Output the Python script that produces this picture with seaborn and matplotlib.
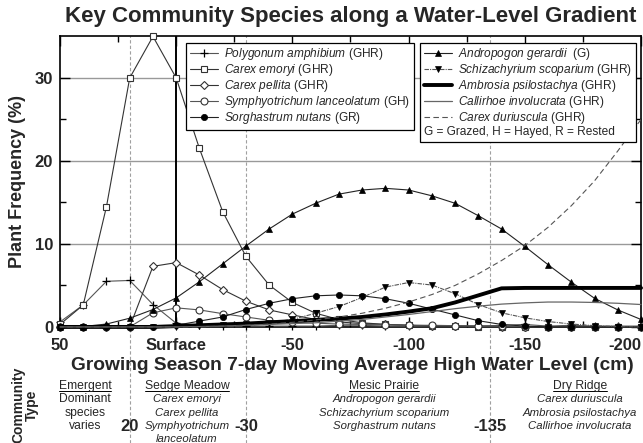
import numpy as np
import pandas as pd
import seaborn as sns
import matplotlib.pyplot as plt
from matplotlib.lines import Line2D

# water level (cm), sampled every 10 cm
level = [50, 40, 30, 20, 10, 0, -10, -20, -30, -40, -50, -60, -70,
         -80, -90, -100, -110, -120, -130, -140, -150, -160, -170, -180, -190, -200]

polygonum = [0.6, 2.65, 5.5, 5.6, 2.7, 0.45, 0.2, 0.15, 0.1, 0.1, 0.1, 0.1, 0.2,
             0.2, 0.1, 0.1, 0.1, 0.1, 0.1, 0.2, 0.3, 0.1, 0.2, 0.1, 0.1, 0.1]
carex_emoryi = [0.3, 2.65, 14.5, 30.0, 35.0, 30.0, 21.5, 13.9, 8.5, 5.05, 2.95, 1.65, 0.9,
                0.5, 0.3, 0.2, 0.1, 0.1, 0.05, 0, 0, 0, 0, 0, 0, 0]
carex_pellita = [0, 0, 0, 0, 7.3, 7.75, 6.25, 4.5, 3.1, 2.05, 1.45, 0.9, 0.6,
                 0.4, 0.3, 0.2, 0.15, 0.1, 0.1, 0.05, 0.05, 0, 0, 0, 0, 0]
symphyotrichum = [0, 0, 0, 0, 1.7, 2.3, 2.05, 1.6, 1.2, 0.8, 0.6, 0.45, 0.35,
                  0.3, 0.25, 0.2, 0.2, 0.15, 0.1, 0.1, 0.05, 0.05, 0.05, 0.05, 0.05, 0.05]
sorghastrum = [0, 0, 0, 0, 0, 0.2, 0.7, 1.2, 2.1, 2.85, 3.4, 3.75, 3.85,
               3.75, 3.4, 2.85, 2.15, 1.45, 0.75, 0.3, 0.1, 0, 0, 0, 0, 0]
andropogon = [0, 0.05, 0.35, 1.05, 2.1, 3.5, 5.45, 7.6, 9.75, 11.8, 13.6, 14.9, 16.0,
              16.5, 16.7, 16.5, 15.8, 14.9, 13.4, 11.8, 9.7, 7.5, 5.4, 3.45, 2.05, 0.9]
schizachyrium = [0, 0, 0, 0, 0, 0.05, 0.1, 0.2, 0.3, 0.5, 0.9, 1.65, 2.45,
                 3.55, 4.8, 5.35, 5.05, 4.0, 2.7, 1.7, 1.1, 0.65, 0.35, 0.15, 0.05, 0]
ambrosia = [0, 0, 0, 0, 0, 0.1, 0.2, 0.3, 0.4, 0.55, 0.7, 0.85, 1.0,
            1.2, 1.5, 1.85, 2.25, 2.95, 3.8, 4.65, 4.7, 4.7, 4.7, 4.7, 4.7, 4.7]
callirhoe = [0, 0, 0, 0, 0, 0, 0.05, 0.1, 0.2, 0.3, 0.4, 0.5, 0.7,
             0.9, 1.2, 1.5, 1.85, 2.2, 2.5, 2.75, 2.9, 3.0, 3.0, 2.95, 2.85, 2.7]
carex_duriuscula = [0, 0, 0, 0, 0, 0, 0, 0.1, 0.2, 0.35, 0.55, 0.85, 1.2,
                    1.65, 2.25, 3.0, 3.9, 5.0, 6.4, 8.0, 9.8, 12.0, 14.6, 17.6, 21.2, 25.0]

xtick_vals = [50, 0, -50, -100, -150, -200]
xtick_labels = ['50', 'Surface', '-50', '-100', '-150', '-200']
boundaries = [20, -30, -135]
boundary_labels = ['20', '-30', '-135']

df = pd.DataFrame({'level': level, 'polygonum': polygonum, 'emoryi': carex_emoryi,
                   'pellita': carex_pellita, 'symph': symphyotrichum, 'sorg': sorghastrum,
                   'andro': andropogon, 'schiz': schizachyrium, 'ambrosia': ambrosia,
                   'calli': callirhoe, 'duri': carex_duriuscula})

sns.set_theme(style='white')
plt.rcParams['font.family'] = ['Liberation Sans', 'DejaVu Sans']
plt.rcParams['mathtext.fontset'] = 'custom'
plt.rcParams['mathtext.rm'] = 'Liberation Sans'
plt.rcParams['mathtext.it'] = 'Liberation Sans:italic'
plt.rcParams['mathtext.bf'] = 'Liberation Sans:bold'

fig = plt.figure(figsize=(6.43, 4.43), dpi=100)
ax = fig.add_axes([0.0933, 0.262, 0.9036, 0.6557])

# reference lines
for v in [10, 20, 30]:
    ax.axhline(v, color='#999999', lw=1.0, zorder=0)
for v in boundaries:
    ax.axvline(v, ymin=-0.40, ymax=1, color='#a0a0a0', lw=0.8, ls=(0, (3, 2)),
               clip_on=False, zorder=0)
ax.axvline(0, color='black', lw=1.4, zorder=1)

series = [
    ('polygonum', r'$\mathit{Polygonum\ amphibium}$ (GHR)',
     dict(color='#555555', lw=0.8, marker='+', ms=6, mec='black', mew=0.9)),
    ('emoryi', r'$\mathit{Carex\ emoryi}$ (GHR)',
     dict(color='#333333', lw=0.8, marker='s', ms=5, mfc='white', mec='#333333', mew=0.8)),
    ('pellita', r'$\mathit{Carex\ pellita}$ (GHR)',
     dict(color='#333333', lw=0.8, marker='D', ms=4.5, mfc='white', mec='#333333', mew=0.8)),
    ('symph', r'$\mathit{Symphyotrichum\ lanceolatum}$ (GH)',
     dict(color='#555555', lw=0.8, marker='o', ms=5, mfc='white', mec='#333333', mew=0.8)),
    ('sorg', r'$\mathit{Sorghastrum\ nutans}$ (GR)',
     dict(color='#222222', lw=0.8, marker='o', ms=4.5, mfc='black', mec='black', mew=0.5)),
    ('andro', r'$\mathit{Andropogon\ gerardii}$  (G)',
     dict(color='#222222', lw=0.8, marker='^', ms=4.5, mfc='black', mec='black', mew=0.5)),
    ('schiz', r'$\mathit{Schizachyrium\ scoparium}$ (GHR)',
     dict(color='#555555', lw=0.8, ls=(0, (4, 1, 1, 1)), marker='v', ms=4.5,
          mfc='black', mec='black', mew=0.5)),
    ('ambrosia', r'$\mathit{Ambrosia\ psilostachya}$ (GHR)',
     dict(color='black', lw=2.8)),
    ('calli', r'$\mathit{Callirhoe\ involucrata}$ (GHR)',
     dict(color='#666666', lw=0.9)),
    ('duri', r'$\mathit{Carex\ duriuscula}$ (GHR)',
     dict(color='#555555', lw=0.8, ls=(0, (5, 3)))),
]
for col, lab, kw in series:
    sns.lineplot(data=df, x='level', y=col, ax=ax, label=lab, clip_on=False, zorder=3, **kw)

if ax.get_legend() is not None:
    ax.get_legend().remove()
handles, labels = ax.get_legend_handles_labels()

ax.set_xlim(50, -200)
ax.set_ylim(0, 35)
ax.set_xticks(xtick_vals)
ax.set_xticks(np.arange(50, -201, -25), minor=True)
ax.set_xticklabels(xtick_labels, fontsize=12, fontweight='bold')
ax.get_xticklabels()[-1].set_ha('right')
ax.set_yticks([0, 10, 20, 30])
ax.set_yticks([5, 15, 25], minor=True)
ax.set_yticklabels(['0', '10', '20', '30'], fontsize=12, fontweight='bold')
ax.tick_params(which='both', direction='in', top=True, right=True, bottom=True, left=True,
               color='black', width=1.0)
ax.tick_params(axis='x', which='major', length=7, pad=8)
ax.tick_params(axis='y', which='major', length=7, pad=5)
ax.tick_params(which='minor', length=4)
for s in ax.spines.values():
    s.set_color('black')
    s.set_linewidth(1.2)
ax.set_xlabel('')
ax.set_ylabel('Plant Frequency (%)', fontsize=13, fontweight='bold', labelpad=6)

leg_kw = dict(fontsize=8.6, frameon=True, fancybox=False, framealpha=1, edgecolor='black',
              handlelength=2.4, handletextpad=0.5, labelspacing=0.0, borderpad=0.3,
              borderaxespad=0, loc='upper left')
leg1 = ax.legend(handles[:5], labels[:5], bbox_to_anchor=(0.217, 0.978), **leg_kw)
leg1.get_frame().set_linewidth(0.9)
ax.add_artist(leg1)
extra = Line2D([], [], color='none')
leg2 = ax.legend(handles[5:] + [extra], labels[5:] + ['G = Grazed, H = Hayed, R = Rested'],
                 bbox_to_anchor=(0.6196, 0.978), **leg_kw)
leg2.get_frame().set_linewidth(0.9)
# last row of the right legend: text only, starting at the left edge
row = leg2._legend_handle_box.get_children()[0].get_children()[-1]
row.get_children().pop(0)

fig.text(0.545, 0.962, 'Key Community Species along a Water-Level Gradient',
         ha='center', va='center', fontsize=16, fontweight='bold')
fig.text(0.548, 0.176, 'Growing Season 7-day Moving Average High Water Level (cm)',
         ha='center', va='center', fontsize=13.8, fontweight='bold')

# community type panel
W, H = 643.0, 443.0
fig.text(0.039, 1 - 405 / H, 'Community\nType', rotation=90, ha='center', va='center',
         fontsize=10, fontweight='bold', linespacing=1.0)

communities = [
    ('Emergent', ['Dominant', 'species', 'varies'], 'normal', 85),
    ('Sedge Meadow', ['Carex emoryi', 'Carex pellita', 'Symphyotrichum', 'lanceolatum'],
     'italic', 187),
    ('Mesic Prairie', ['Andropogon gerardii', 'Schizachyrium scoparium', 'Sorghastrum nutans'],
     'italic', 384),
    ('Dry Ridge', ['Carex duriuscula', 'Ambrosia psilostachya', 'Callirhoe involucrata'],
     'italic', 580),
]
heads = []
for head, lines, style, xc in communities:
    t = fig.text(xc / W, 1 - 386 / H, head, ha='center', va='center', fontsize=8.7)
    heads.append(t)
    for i, ln in enumerate(lines):
        fig.text(xc / W, 1 - (399.5 + 13.2 * i) / H, ln, ha='center', va='center',
                 fontsize=8.2 if style == 'italic' else 8.7, style=style)

for v, lab in zip(boundaries, boundary_labels):
    ax.text(v, -(427 - 327) / 290.5, lab, transform=ax.get_xaxis_transform(),
            ha='center', va='center', fontsize=12, fontweight='bold')

# underline the community names
fig.canvas.draw()
inv = fig.transFigure.inverted()
for t in heads:
    bb = t.get_window_extent()
    (x0, y0), (x1, y1) = inv.transform([(bb.x0, bb.y0 + 1), (bb.x1, bb.y0 + 1)])
    fig.add_artist(Line2D([x0, x1], [y0, y1], color='black', lw=0.7))

fig.savefig('out.png', dpi=100)
